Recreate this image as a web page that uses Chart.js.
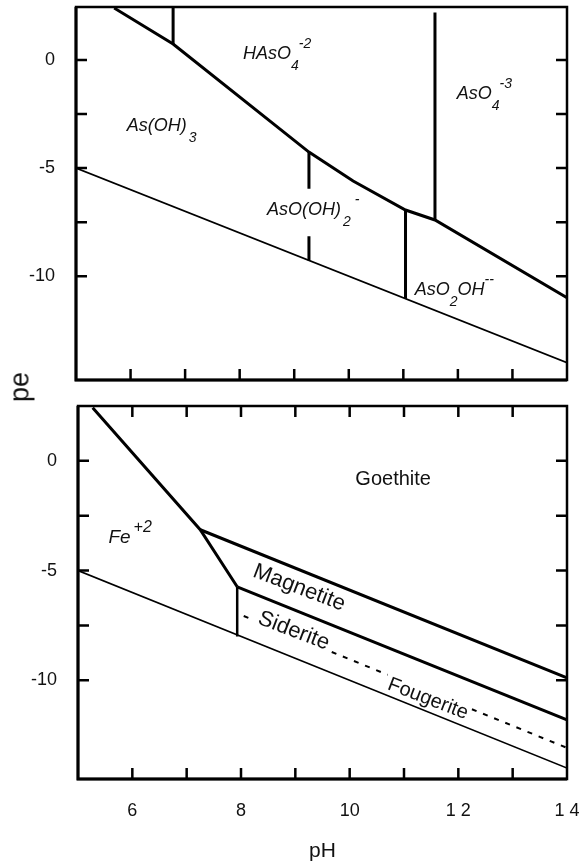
<!DOCTYPE html>
<html lang="en">
<head>
<meta charset="UTF-8">
<title>pe-pH diagrams: arsenic and iron</title>
<script src="https://cdn.jsdelivr.net/npm/chart.js@4"></script>
<style>
  body { margin: 0; background: #fff; }
  #wrap { position: relative; width: 581px; height: 865px; font-family: "Liberation Sans", Arial, sans-serif; }
  canvas { position: absolute; left: 0; }
  #topChart { top: 0; }
  #botChart { top: 393px; }
  #peLabel { position: absolute; left: 20px; top: 387px; transform: translate(-50%, -50%) rotate(-90deg);
             font-size: 27px; color: #111; line-height: 1; }
</style>
</head>
<body>
<div id="wrap">
  <canvas id="topChart" width="581" height="393"></canvas>
  <canvas id="botChart" width="581" height="472"></canvas>
  <div id="peLabel">pe</div>
</div>
<script>
// ---- axis ticks ----
const phTicks = [6, 8, 10, 12, 14];
const phTickLabels = ['6', '8', '10', '1 2', '1 4'];
const phMinorTicks = [6, 7, 8, 9, 10, 11, 12, 13];
const peTicks = [0, -5, -10];
const peMinorTicks = [0, -2.5, -5, -7.5, -10];

// ---- arsenic panel (pH, pe) ----
const waterPH = [5, 14];
const waterPE = [-5, -14];
const asMainPH = [5.70, 6.78, 9.27, 10.08, 11.04, 11.58, 14];
const asMainPE = [2.4, 0.74, -4.26, -5.60, -6.94, -7.40, -11.0];
const asV1PH = [6.78, 6.78];
const asV1PE = [2.45, 0.74];
const asV2PH = [9.27, 9.27, 9.27, 9.27, 9.27];
const asV2PE = [-4.26, -5.95, null, -8.15, -9.27];
const asV3PH = [11.04, 11.04];
const asV3PE = [-6.94, -11.04];
const asV4PH = [11.58, 11.58];
const asV4PE = [2.2, -7.40];

// ---- iron panel (pH, pe) ----
const feGoePH = [5.27, 7.25, 7.93];
const feGoePE = [2.42, -3.14, -5.74];
const feSidPH = [7.93, 7.93];
const feSidPE = [-5.74, -8.0];
const goeMagPH = [7.25, 14];
const goeMagPE = [-3.14, -9.89];
const magSidPH = [7.93, 14];
const magSidPE = [-5.74, -11.8];
const sidFouPH = [8.05, 8.22, 9.0, 9.67, 10.70, 11.5, 12.25, 14];
const sidFouPE = [-7.07, -7.24, null, -8.71, -9.75, null, -11.32, -13.08];

const FAMILY = "'Liberation Sans', Arial, Helvetica, sans-serif";
Chart.defaults.font.family = FAMILY;
Chart.defaults.color = '#111';

function pts(ph, pe) {
  return ph.map((v, i) => ({ x: v, y: pe[i] }));
}
function line(ph, pe, width, dash) {
  return {
    data: pts(ph, pe), borderColor: '#000', borderWidth: width, borderDash: dash || [],
    pointRadius: 0, tension: 0, fill: false, spanGaps: false
  };
}

// frame + inward ticks, drawn from the scales
const framePlugin = {
  id: 'frame',
  afterDatasetsDraw(chart, args, opts) {
    const { ctx, chartArea: a, scales: { x, y } } = chart;
    ctx.save();
    ctx.strokeStyle = '#000';
    ctx.lineWidth = 2.5;
    ctx.strokeRect(a.left, a.top, a.right - a.left, a.bottom - a.top);
    ctx.lineWidth = 3;
    ctx.beginPath();
    ctx.moveTo(a.left, a.top); ctx.lineTo(a.left, a.bottom); ctx.lineTo(a.right, a.bottom);
    ctx.stroke();
    ctx.lineWidth = 2.5;
    ctx.beginPath();
    phMinorTicks.forEach(v => {
      const px = x.getPixelForValue(v);
      ctx.moveTo(px, a.bottom); ctx.lineTo(px, a.bottom - 11);
      if (opts.topTicks) { ctx.moveTo(px, a.top); ctx.lineTo(px, a.top + 11); }
    });
    peMinorTicks.forEach(v => {
      const py = y.getPixelForValue(v);
      ctx.moveTo(a.left, py); ctx.lineTo(a.left + 11, py);
      ctx.moveTo(a.right, py); ctx.lineTo(a.right - 11, py);
    });
    ctx.stroke();
    ctx.restore();
  }
};

// field labels placed in data coordinates
const labelPlugin = {
  id: 'fieldLabels',
  afterDatasetsDraw(chart, args, opts) {
    const { ctx, scales: { x, y } } = chart;
    ctx.save();
    ctx.fillStyle = '#111';
    (opts.items || []).forEach(it => {
      ctx.save();
      ctx.translate(x.getPixelForValue(it.ph), y.getPixelForValue(it.pe));
      if (it.rot) ctx.rotate(it.rot * Math.PI / 180);
      if (it.parts) {
        ctx.textAlign = 'left';
        ctx.textBaseline = 'alphabetic';
        let cx = 0;
        it.parts.forEach(p => {
          const sz = p.s ? it.small : it.size;
          ctx.font = `${it.style || ''} ${sz}px ${FAMILY}`;
          const dy = p.s === 'sub' ? 11 : p.s === 'sup' ? -11 : 0;
          cx += p.dx || 0;
          ctx.fillText(p.t, cx, dy);
          cx += ctx.measureText(p.t).width;
        });
      } else {
        ctx.font = `${it.size}px ${FAMILY}`;
        ctx.textAlign = 'center';
        ctx.textBaseline = 'middle';
        ctx.fillText(it.text, 0, 0);
      }
      ctx.restore();
    });
    ctx.restore();
  }
};

function makeChart(id, o) {
  return new Chart(document.getElementById(id), {
    type: 'line',
    data: { datasets: o.datasets },
    plugins: [framePlugin, labelPlugin],
    options: {
      responsive: false, animation: false, devicePixelRatio: 1,
      layout: { padding: { top: o.padTop, right: 14, bottom: 0, left: 0 } },
      plugins: {
        legend: { display: false }, tooltip: { enabled: false },
        frame: { topTicks: o.topTicks },
        fieldLabels: { items: o.labels }
      },
      scales: {
        x: {
          type: 'linear', min: 5, max: 14,
          grid: { display: false, drawTicks: false }, border: { display: false },
          ticks: {
            display: o.showX, padding: 21, font: { size: 18 }, maxRotation: 0, autoSkip: false,
            callback: (v, i) => phTickLabels[i]
          },
          afterBuildTicks: s => { s.ticks = phTicks.map(v => ({ value: v })); },
          afterFit: s => { s.height = o.xHeight; s.paddingLeft = 0; s.paddingRight = 0; },
          title: { display: o.showX, text: 'pH', font: { size: 21 }, padding: { top: 0, bottom: 1 } }
        },
        y: {
          type: 'linear', min: o.yMin, max: o.yMax,
          grid: { display: false, drawTicks: false }, border: { display: false },
          ticks: { padding: 21, font: { size: 18 }, callback: v => String(v) },
          afterBuildTicks: s => { s.ticks = peTicks.map(v => ({ value: v })); },
          afterFit: s => { s.width = o.yWidth; s.paddingTop = 0; s.paddingBottom = 0; }
        }
      }
    }
  });
}

makeChart('topChart', {
  padTop: 7, xHeight: 13, yWidth: 76, yMin: -14.8, yMax: 2.45, showX: false, topTicks: false,
  datasets: [
    line(waterPH, waterPE, 1.6),
    line(asMainPH, asMainPE, 3),
    line(asV1PH, asV1PE, 3),
    line(asV2PH, asV2PE, 3),
    line(asV3PH, asV3PE, 3),
    line(asV4PH, asV4PE, 3)
  ],
  labels: [
    { ph: 8.06, pe: 0.05, style: 'italic', size: 18, small: 14, parts: [{ t: 'HAsO' }, { t: '4', s: 'sub' }, { t: '-2', s: 'sup' }] },
    { ph: 11.98, pe: -1.80, style: 'italic', size: 18, small: 14, parts: [{ t: 'AsO' }, { t: '4', s: 'sub' }, { t: '-3', s: 'sup' }] },
    { ph: 5.93, pe: -3.28, style: 'italic', size: 18, small: 14, parts: [{ t: 'As(OH)' }, { t: '3', s: 'sub', dx: 2 }] },
    { ph: 8.50, pe: -7.17, style: 'italic', size: 18, small: 14, parts: [{ t: 'AsO(OH)' }, { t: '2', s: 'sub', dx: 2 }, { t: '-', s: 'sup', dx: 4 }] },
    { ph: 11.21, pe: -10.87, style: 'italic', size: 18, small: 14, parts: [{ t: 'AsO' }, { t: '2', s: 'sub' }, { t: 'OH' }, { t: '--', s: 'sup' }] }
  ]
});

makeChart('botChart', {
  padTop: 13, xHeight: 86, yWidth: 78, yMin: -14.5, yMax: 2.5, showX: true, topTicks: true,
  datasets: [
    line(waterPH, waterPE, 1.6),
    line(feGoePH, feGoePE, 3),
    line(feSidPH, feSidPE, 2.5),
    line(goeMagPH, goeMagPE, 3),
    line(magSidPH, magSidPE, 3),
    line(sidFouPH, sidFouPE, 2, [5, 7])
  ],
  labels: [
    { ph: 10.80, pe: -0.87, size: 20, text: 'Goethite' },
    { ph: 5.56, pe: -3.74, style: 'italic', size: 19, small: 16, parts: [{ t: 'Fe' }, { t: '+2', s: 'sup', dx: 3 }] },
    { ph: 9.07, pe: -5.79, size: 22, rot: 21, text: 'Magnetite' },
    { ph: 8.97, pe: -7.75, size: 22, rot: 21, text: 'Siderite' },
    { ph: 11.44, pe: -10.85, size: 20, rot: 21, text: 'Fougerite' }
  ]
});
</script>
</body>
</html>
